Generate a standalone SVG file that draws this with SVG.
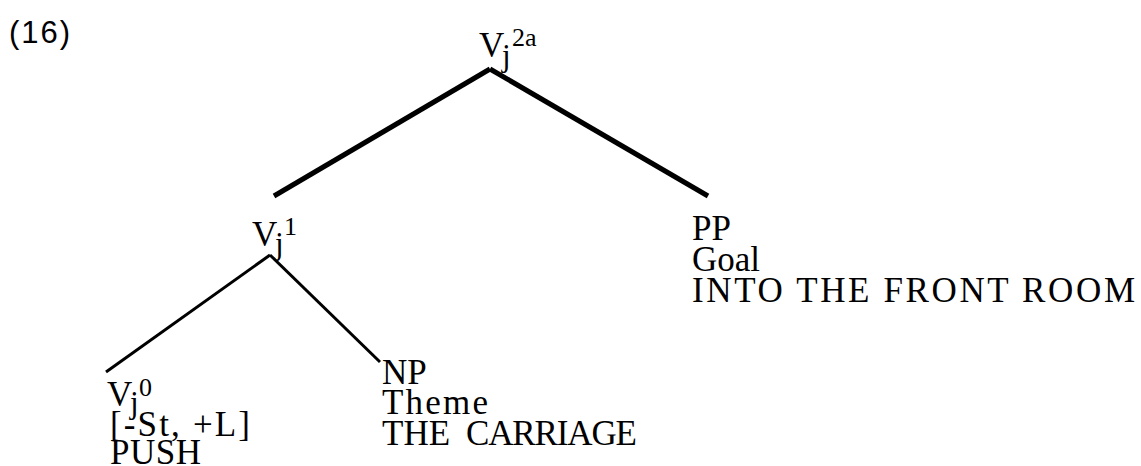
<svg xmlns="http://www.w3.org/2000/svg" width="1141" height="466" viewBox="0 0 1141 466">
<style>
.t{font-family:"Liberation Serif","Times New Roman",serif;font-size:35px;fill:#000}
.j{font-family:"Liberation Serif","Times New Roman",serif;font-size:31px;fill:#000}
.s{font-family:"Liberation Serif","Times New Roman",serif;font-size:26px;fill:#000}
.n{font-family:"Liberation Sans",Arimo,Arial,Helvetica,sans-serif;font-size:31px;fill:#000;letter-spacing:2px}
.thick{stroke:#000;stroke-width:5;fill:none}
.thin{stroke:#000;stroke-width:3;fill:none}
</style>
<rect width="1141" height="466" fill="#fff"/>
<text class="n" x="9" y="43">(16)</text>
<g id="connectors">
<line class="thick" x1="490" y1="69" x2="274" y2="196"/>
<line class="thick" x1="490" y1="69" x2="708" y2="196"/>
<line class="thin" x1="270" y1="255" x2="106" y2="372"/>
<line class="thin" x1="270" y1="255" x2="380" y2="362"/>
</g>
<g id="node-v2a">
<text class="t" x="479" y="57">V</text>
<text class="j" x="502" y="66">j</text>
<text class="s" x="512" y="46">2a</text>
</g>
<g id="node-v1">
<text class="t" x="252" y="246">V</text>
<text class="j" x="275" y="254">j</text>
<text class="s" x="284" y="235">1</text>
</g>
<g id="node-v0">
<text class="t" x="107" y="406">V</text>
<text class="j" x="130" y="413">j</text>
<text class="s" x="139" y="396">0</text>
<text class="t" x="110" y="436" textLength="140" lengthAdjust="spacing">[-St, +L]</text>
<text class="t" x="110" y="464" textLength="91" lengthAdjust="spacing">PUSH</text>
</g>
<g id="node-np">
<text class="t" x="382" y="384">NP</text>
<text class="t" x="382" y="414" textLength="106" lengthAdjust="spacing">Theme</text>
<text class="t" x="382" y="445"><tspan>THE</tspan><tspan x="466" textLength="171" lengthAdjust="spacing">CARRIAGE</tspan></text>
</g>
<g id="node-pp">
<text class="t" x="692" y="240">PP</text>
<text class="t" x="692" y="271">Goal</text>
<text class="t" x="692" y="302" textLength="443" lengthAdjust="spacing">INTO THE FRONT ROOM</text>
</g>
</svg>
